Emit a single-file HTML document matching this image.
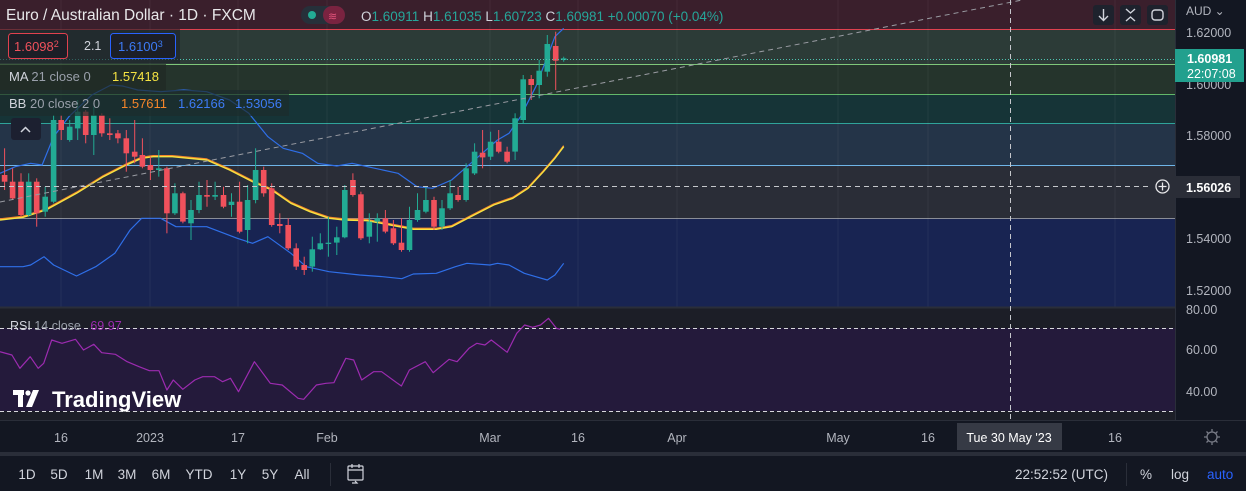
<!DOCTYPE html>
<html><head><meta charset="utf-8"><style>
html,body{margin:0;padding:0;background:#131722;width:1246px;height:491px;overflow:hidden;font-family:"Liberation Sans",sans-serif}
svg{display:block}
text{font-family:"Liberation Sans",sans-serif}
</style></head><body>
<svg id="s" width="1246" height="491" viewBox="0 0 1246 491" xmlns="http://www.w3.org/2000/svg">
<!-- main pane bands -->
<rect x="0" y="0" width="1175" height="29" fill="#3a1f2c"/>
<rect x="0" y="29" width="1175" height="35" fill="#2c3b37"/>
<rect x="0" y="64" width="1175" height="30" fill="#25342c"/>
<rect x="0" y="94" width="1175" height="29" fill="#163437"/>
<rect x="0" y="123" width="1175" height="42" fill="#243448"/>
<rect x="0" y="165" width="1175" height="53" fill="#2a2d37"/>
<rect x="0" y="218" width="1175" height="89" fill="#182452"/>
<g stroke-width="1">
<line x1="0" y1="29.5" x2="1175" y2="29.5" stroke="#e0414f"/>
<line x1="0" y1="64.5" x2="1175" y2="64.5" stroke="#7fc77a"/>
<line x1="0" y1="94.5" x2="1175" y2="94.5" stroke="#63b86a"/>
<line x1="0" y1="123.5" x2="1175" y2="123.5" stroke="#2fa39a"/>
<line x1="0" y1="165.5" x2="1175" y2="165.5" stroke="#6fb5e8"/>
<line x1="0" y1="218.5" x2="1175" y2="218.5" stroke="#8a8d96"/>
</g>
<!-- grid -->
<g stroke="#ffffff" stroke-opacity="0.05">
<line x1="61" y1="0" x2="61" y2="420"/><line x1="150" y1="0" x2="150" y2="420"/><line x1="238" y1="0" x2="238" y2="420"/><line x1="327" y1="0" x2="327" y2="420"/><line x1="490" y1="0" x2="490" y2="420"/><line x1="578" y1="0" x2="578" y2="420"/><line x1="677" y1="0" x2="677" y2="420"/><line x1="838" y1="0" x2="838" y2="420"/><line x1="928" y1="0" x2="928" y2="420"/><line x1="1115" y1="0" x2="1115" y2="420"/>
</g>
<!-- RSI pane -->
<rect x="0" y="308" width="1175" height="112" fill="#1c1e27"/>
<rect x="0" y="328" width="1175" height="83" fill="#241a3b"/>
<line x1="0" y1="328.5" x2="1175" y2="328.5" stroke="#d8d8dc" stroke-dasharray="4 3"/>
<line x1="0" y1="411.5" x2="1175" y2="411.5" stroke="#d8d8dc" stroke-dasharray="4 3"/>
<line x1="0" y1="307.5" x2="1246" y2="307.5" stroke="#2a2e39" stroke-width="2"/>
<g id="dyn"></g>
<!-- trend dashed -->
<line x1="0" y1="202" x2="1022" y2="0" stroke="#9a9ca3" stroke-dasharray="5 4"/>
<!-- crosshair -->
<line x1="1010.5" y1="0" x2="1010.5" y2="420" stroke="#c5c7cc" stroke-dasharray="5 4"/>
<line x1="0" y1="186.5" x2="1152" y2="186.5" stroke="#c5c7cc" stroke-dasharray="5 4"/>
<line x1="0" y1="59.5" x2="1175" y2="59.5" stroke="#4fc3b0" stroke-dasharray="1 2"/>
<!-- header -->
<text x="6" y="20" fill="#e8e8ea" font-size="15.5">Euro / Australian Dollar · 1D · FXCM</text>
<rect x="301" y="6" width="44" height="18" rx="9" fill="#26303a"/>
<rect x="323" y="6" width="22" height="18" rx="9" fill="#7a2340"/>
<circle cx="312" cy="15" r="4" fill="#22ab94"/>
<text x="328" y="20" fill="#e0527a" font-size="11">≋</text>
<text x="361" y="21" font-size="13.5" fill="#d1d4dc">O<tspan fill="#26a69a">1.60911</tspan> H<tspan fill="#26a69a">1.61035</tspan> L<tspan fill="#26a69a">1.60723</tspan> C<tspan fill="#26a69a">1.60981</tspan> <tspan fill="#26a69a">+0.00070 (+0.04%)</tspan></text>
<!-- top right buttons -->
<g fill="#1e222d" stroke="none"><rect x="1093" y="5" width="21" height="20" rx="3"/><rect x="1120" y="5" width="21" height="20" rx="3"/><rect x="1147" y="5" width="21" height="20" rx="3"/></g>
<g stroke="#d1d4dc" stroke-width="1.4" fill="none"><path d="M1103.5 9v11M1099 16l4.5 4.5 4.5-4.5"/><path d="M1126 9l4.5 4 4.5-4M1126 21l4.5-4 4.5 4"/><rect x="1152" y="10" width="11" height="10" rx="3"/></g>
<!-- legend boxes -->
<rect x="0" y="29" width="180" height="34" fill="#1c2128" fill-opacity="0.6"/>
<rect x="8.5" y="33.5" width="59" height="25" rx="3" fill="#1c1f27" stroke="#e0414f"/>
<text x="14" y="51" font-size="13" fill="#f0515c">1.6098<tspan font-size="9" dy="-4">2</tspan></text>
<text x="84" y="50" font-size="12.5" fill="#d1d4dc">2.1</text>
<rect x="110.5" y="33.5" width="65" height="25" rx="3" fill="#1c1f27" stroke="#2962ff"/>
<text x="118" y="51" font-size="13" fill="#3d7bf5">1.6100<tspan font-size="9" dy="-4">3</tspan></text>
<rect x="0" y="64" width="166" height="26" fill="#1f2a24" fill-opacity="0.7"/>
<text x="9" y="81" font-size="13" fill="#d1d4dc">MA <tspan fill="#9aa0ab">21 close 0</tspan></text>
<text x="112" y="81" font-size="13" fill="#f5e342">1.57418</text>
<rect x="0" y="90" width="289" height="26" fill="#1d2c2c" fill-opacity="0.7"/>
<text x="9" y="108" font-size="13" fill="#d1d4dc">BB <tspan fill="#9aa0ab">20 close 2 0</tspan></text>
<text x="121" y="108" font-size="13" fill="#f5862a">1.57611</text>
<text x="178" y="108" font-size="13" fill="#3d7bf5">1.62166</text>
<text x="235" y="108" font-size="13" fill="#3d7bf5">1.53056</text>
<rect x="11" y="118" width="30" height="22" rx="3" fill="#1c2030"/>
<path d="M21 132l4.5-4.5 4.5 4.5" stroke="#d1d4dc" stroke-width="1.5" fill="none"/>
<!-- RSI legend -->
<text x="10" y="330" font-size="12.5" fill="#d1d4dc">RSI <tspan fill="#9aa0ab">14 close</tspan> <tspan fill="#9c2bb0" dx="6">69.97</tspan></text>
<!-- TradingView logo -->
<g fill="#ffffff">
<rect x="13" y="390" width="11" height="5"/><rect x="18" y="390" width="5" height="17"/><circle cx="28" cy="393" r="2.6"/><path d="M33 390h6l-7 17h-6z"/>
</g>
<text x="52" y="407" font-size="22" fill="#ffffff" font-weight="bold">TradingView</text>
<!-- price axis -->
<rect x="1175" y="0" width="71" height="420" fill="#131722"/>
<line x1="1175.5" y1="0" x2="1175.5" y2="452" stroke="#2a2e39"/>
<text x="1186" y="15" font-size="12" fill="#b2b5be">AUD ⌄</text>
<g font-size="12.5" fill="#b2b5be">
<text x="1186" y="37">1.62000</text><text x="1186" y="89">1.60000</text><text x="1186" y="140">1.58000</text><text x="1186" y="243">1.54000</text><text x="1186" y="295">1.52000</text>
<text x="1186" y="314">80.00</text><text x="1186" y="354">60.00</text><text x="1186" y="396">40.00</text>
</g>
<rect x="1175" y="49" width="69" height="33" fill="#22a08e"/>
<text x="1187" y="63" font-size="12.5" font-weight="bold" fill="#ffffff">1.60981</text>
<text x="1187" y="78" font-size="12.5" fill="#ffffff">22:07:08</text>
<rect x="1151" y="175" width="24" height="23" fill="#2a2d37"/>
<circle cx="1162.5" cy="186.5" r="6.5" stroke="#e8e8ea" stroke-width="1.3" fill="none"/>
<path d="M1162.5 182.5v8M1158.5 186.5h8" stroke="#e8e8ea" stroke-width="1.3"/>
<rect x="1175" y="176" width="65" height="22" fill="#2a2d37"/>
<text x="1186" y="192" font-size="12.5" font-weight="bold" fill="#ffffff">1.56026</text>
<!-- time axis -->
<rect x="0" y="420" width="1246" height="32" fill="#131722"/>
<line x1="0" y1="420.5" x2="1246" y2="420.5" stroke="#2a2e39"/>
<g font-size="12.5" fill="#b2b5be" text-anchor="middle">
<text x="61" y="442">16</text><text x="150" y="442">2023</text><text x="238" y="442">17</text><text x="327" y="442">Feb</text><text x="490" y="442">Mar</text><text x="578" y="442">16</text><text x="677" y="442">Apr</text><text x="838" y="442">May</text><text x="928" y="442">16</text><text x="1115" y="442">16</text>
</g>
<rect x="957" y="423" width="105" height="27" fill="#363a45"/>
<text x="1009" y="442" font-size="12.5" fill="#ffffff" text-anchor="middle">Tue 30 May '23</text>
<circle cx="1212" cy="437" r="5" stroke="#787b86" stroke-width="1.3" fill="none"/>
<path d="M1212 429v3M1212 442v3M1204 437h3M1217 437h3M1206.5 431.5l2 2M1215.5 440.5l2 2M1206.5 442.5l2-2M1215.5 433.5l2-2" stroke="#787b86" stroke-width="1.3"/>
<!-- bottom toolbar -->
<rect x="0" y="452" width="1246" height="4" fill="#2a2e39"/>
<rect x="0" y="456" width="1246" height="35" fill="#131722"/>
<g font-size="13.5" fill="#d1d4dc" text-anchor="middle">
<text x="27" y="479">1D</text><text x="59" y="479">5D</text><text x="94" y="479">1M</text><text x="127" y="479">3M</text><text x="161" y="479">6M</text><text x="199" y="479">YTD</text><text x="238" y="479">1Y</text><text x="270" y="479">5Y</text><text x="302" y="479">All</text>
</g>
<line x1="330.5" y1="463" x2="330.5" y2="486" stroke="#2a2e39"/>
<g stroke="#d1d4dc" stroke-width="1.2" fill="none"><rect x="348" y="466" width="15" height="14" rx="1"/><path d="M348 470h15M352 464v4M359 464v4M352 483h5l-2-2"/></g>
<text x="1108" y="479" font-size="13.5" fill="#d1d4dc" text-anchor="end">22:52:52 (UTC)</text>
<line x1="1126.5" y1="463" x2="1126.5" y2="486" stroke="#2a2e39"/>
<text x="1140" y="479" font-size="13.5" fill="#d1d4dc">%</text>
<text x="1171" y="479" font-size="13.5" fill="#d1d4dc">log</text>
<text x="1207" y="479" font-size="13.5" fill="#2962ff">auto</text>
</svg>
<script>
var NS="http://www.w3.org/2000/svg",g=document.getElementById("dyn");
function el(t,a){var e=document.createElementNS(NS,t);for(var k in a)e.setAttribute(k,a[k]);g.appendChild(e);return e;}
var sx=2.613,sy=3;
function poly(pts,col,w,fx,fy,oy){var s=pts.map(function(p){return (p[0]/fx).toFixed(1)+","+(oy+p[1]/fy).toFixed(1)}).join(" ");el("polyline",{points:s,fill:"none",stroke:col,"stroke-width":w,"stroke-linejoin":"round"});}
// BB upper/lower
poly([[0,520],[40,500],[80,490],[110,495],[140,410],[180,350],[240,285],[290,255],[320,258],[360,270],[420,275],[480,270],[540,275],[600,300],[650,340],[700,410],[740,445],[790,460],[830,490],[880,498],[920,490],[980,505],[1040,520],[1090,560],[1130,565],[1180,540],[1220,500],[1260,460],[1300,420],[1330,400],[1360,350],[1400,260],[1430,170],[1450,110],[1473,85]],"#2f6fe8",1.2,sx,sy,0);
poly([[0,800],[60,800],[80,795],[115,770],[140,795],[200,828],[250,800],[300,760],[340,690],[370,655],[420,655],[460,680],[540,680],[620,715],[660,730],[700,710],[760,760],[800,800],[860,815],[940,825],[1000,830],[1050,836],[1080,822],[1140,820],[1190,800],[1220,790],[1280,795],[1300,790],[1330,795],[1370,820],[1400,830],[1430,840],[1450,825],[1473,790]],"#2f6fe8",1.2,sx,sy,0);
var ma=[[0,660],[60,652],[120,630],[200,580],[270,530],[330,495],[370,475],[400,470],[450,470],[540,480],[600,510],[660,545],[710,570],[760,610],[810,635],[860,655],[900,660],[960,662],[1020,675],[1080,688],[1140,688],[1180,680],[1230,650],[1290,615],[1340,595],[1380,565],[1420,515],[1450,475],[1473,440]];
poly(ma.map(function(p){return [p[0],p[1]-3]}),"#f5862a",1.4,sx,sy,0);
poly(ma,"#f5e342",1.4,sx,sy,0);
// candles: [xzoom, color, bodyTop, bodyBot, wickTop, wickBot]
var C=[[12,0,525,545,445,570],[33,0,545,595,505,600],[55,0,545,645,520,650],[75,1,545,645,520,650],[96,0,545,640,535,680],[118,1,590,635,560,650],[140,1,360,605,345,610],[160,0,360,390,345,420],[182,1,380,420,360,425],[203,1,335,385,300,420],[224,0,335,405,330,430],[245,1,345,405,320,465],[266,0,345,400,340,410],[287,0,400,405,355,420],[308,0,400,415,390,430],[330,0,415,460,390,515],[352,0,455,470,360,490],[372,0,465,500,415,505],[393,0,495,510,470,540],[415,1,505,510,450,530],[436,0,505,640,500,700],[457,1,580,640,550,645],[478,0,580,665,575,670],[499,1,630,670,600,720],[520,1,585,630,545,640],[541,0,585,590,540,620],[562,1,585,590,545,600],[584,0,585,620,560,625],[605,1,605,615,580,650],[626,0,605,695,545,700],[647,1,600,690,555,730],[668,1,510,600,445,610],[689,0,510,580,500,590],[710,0,565,675,550,680],[731,0,672,678,640,700],[753,0,675,745,655,750],[774,0,745,800,730,810],[795,0,795,810,770,825],[816,1,748,800,710,815],[837,1,730,748,700,750],[858,1,728,732,650,770],[880,1,712,728,680,765],[901,1,570,712,555,715],[922,0,540,585,520,590],[943,0,583,715,575,720],[965,1,665,710,640,730],[986,1,655,665,640,725],[1007,0,655,695,630,700],[1028,0,685,730,660,735],[1049,0,728,750,655,755],[1070,1,660,750,620,755],[1091,1,630,660,580,665],[1113,1,600,635,560,640],[1134,0,600,680,590,690],[1155,1,625,680,600,690],[1176,1,580,625,540,630],[1197,0,585,600,560,605],[1218,1,505,600,490,605],[1240,1,455,520,430,525],[1261,0,458,472,390,505],[1282,1,425,470,395,480],[1303,0,425,455,390,460],[1325,0,455,485,440,490],[1346,1,355,455,340,480],[1367,1,238,360,225,370],[1388,0,237,255,225,300],[1409,1,212,255,180,295],[1430,1,132,215,105,230],[1452,0,138,182,95,270],[1473,1,175,180,170,185]];
C.forEach(function(c){var x=c[0]/sx,col=c[1]?"#22ab94":"#f0515c";
el("line",{x1:x.toFixed(1),x2:x.toFixed(1),y1:(c[4]/sy).toFixed(1),y2:(c[5]/sy).toFixed(1),stroke:col,"stroke-width":1});
var t=c[2]/sy,b=Math.max(c[3]/sy,t+1.2);el("rect",{x:(x-2.8).toFixed(1),y:t.toFixed(1),width:5.6,height:(b-t).toFixed(1),fill:col});});
// RSI
poly([[0,155],[15,165],[25,205],[38,170],[48,205],[55,190],[65,120],[78,130],[95,118],[105,150],[118,133],[128,158],[145,163],[160,185],[175,200],[188,212],[200,212],[210,270],[218,240],[230,268],[245,240],[255,230],[270,230],[280,245],[290,235],[300,275],[320,185],[340,250],[355,255],[375,295],[382,298],[398,255],[410,250],[420,248],[435,175],[445,180],[455,240],[470,215],[480,215],[500,250],[505,258],[515,210],[535,185],[545,218],[565,178],[575,185],[590,145],[600,130],[610,135],[618,120],[638,157],[650,100],[660,75],[670,82],[680,75],[690,55],[700,85],[705,88]],"#9c2bb0",1.2,1.258,3,300);
</script>
</body></html>
